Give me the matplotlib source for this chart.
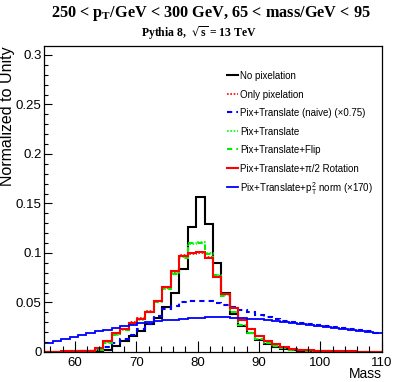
import matplotlib
matplotlib.use('Agg')
import matplotlib.pyplot as plt
import numpy as np
from matplotlib.lines import Line2D

# binning: 40 bins from 55 to 110
mass_lo, mass_hi, n_bins = 55.0, 110.0, 40

no_pix = [0.0003, 0.0003, 0.0004, 0.0005, 0.0006, 0.0008, 0.0012, 0.002, 0.006, 0.011,
          0.016, 0.021, 0.028, 0.034, 0.045, 0.060, 0.084, 0.126, 0.157, 0.129,
          0.090, 0.060, 0.038, 0.026, 0.019, 0.012, 0.008, 0.005, 0.003, 0.002,
          0.0015, 0.001, 0.0008, 0.0006, 0.0005, 0.0004, 0.0003, 0.0003, 0.0002, 0.0002]
only_pix = [0.0005, 0.0005, 0.0006, 0.0007, 0.0008, 0.001, 0.003, 0.010, 0.018, 0.023,
            0.030, 0.034, 0.041, 0.051, 0.065, 0.081, 0.098, 0.099, 0.100, 0.096,
            0.077, 0.059, 0.044, 0.033, 0.023, 0.016, 0.011, 0.008, 0.005, 0.0035,
            0.0025, 0.002, 0.0015, 0.001, 0.0008, 0.0007, 0.0006, 0.0005, 0.0004, 0.0004]
naive = [0.0003, 0.0003, 0.0005, 0.0008, 0.001, 0.0015, 0.003, 0.005, 0.009, 0.013,
         0.017, 0.023, 0.028, 0.036, 0.043, 0.046, 0.050, 0.052, 0.052, 0.051,
         0.049, 0.047, 0.045, 0.042, 0.040, 0.037, 0.035, 0.033, 0.031, 0.030,
         0.029, 0.028, 0.027, 0.026, 0.025, 0.024, 0.023, 0.022, 0.021, 0.019]
translate = [0.0003, 0.0003, 0.0004, 0.0005, 0.0006, 0.0008, 0.002, 0.009, 0.017, 0.022,
             0.028, 0.032, 0.040, 0.050, 0.064, 0.080, 0.096, 0.109, 0.111, 0.100,
             0.078, 0.058, 0.040, 0.027, 0.019, 0.013, 0.009, 0.006, 0.004, 0.0025,
             0.0018, 0.0012, 0.001, 0.0008, 0.0006, 0.0005, 0.0004, 0.0004, 0.0003, 0.0003]
flip = [0.0003, 0.0003, 0.0004, 0.0005, 0.0006, 0.0008, 0.002, 0.009, 0.017, 0.022,
        0.028, 0.033, 0.040, 0.050, 0.064, 0.079, 0.095, 0.110, 0.110, 0.099,
        0.078, 0.057, 0.040, 0.027, 0.019, 0.013, 0.009, 0.006, 0.004, 0.0025,
        0.0018, 0.0012, 0.001, 0.0008, 0.0006, 0.0005, 0.0004, 0.0004, 0.0003, 0.0003]
rotation = [0.0005, 0.0005, 0.0006, 0.0007, 0.0008, 0.001, 0.004, 0.011, 0.019, 0.023,
            0.029, 0.033, 0.040, 0.052, 0.066, 0.082, 0.097, 0.100, 0.101, 0.095,
            0.076, 0.059, 0.044, 0.032, 0.023, 0.016, 0.011, 0.008, 0.005, 0.0035,
            0.0025, 0.002, 0.0015, 0.001, 0.0008, 0.0007, 0.0006, 0.0005, 0.0004, 0.0004]
pt2_norm = [0.0095, 0.011, 0.013, 0.015, 0.017, 0.019, 0.021, 0.0225, 0.024, 0.0262,
            0.0276, 0.029, 0.030, 0.031, 0.032, 0.0328, 0.0337, 0.0343, 0.0348, 0.0352,
            0.0354, 0.0352, 0.0348, 0.0343, 0.0336, 0.0330, 0.0322, 0.0313, 0.0303, 0.0293,
            0.0283, 0.0272, 0.0262, 0.0252, 0.0242, 0.0232, 0.0222, 0.0213, 0.0204, 0.0196]

labels = ['No pixelation', 'Only pixelation', 'Pix+Translate (naive) (\u00d70.75)',
          'Pix+Translate', 'Pix+Translate+Flip', 'Pix+Translate+\u03c0/2 Rotation',
          'Pix+Translate+p$_\\mathregular{T}^\\mathregular{2}$ norm (\u00d7170)']

plt.rcParams['font.family'] = ['Liberation Sans', 'DejaVu Sans']

edges = np.linspace(mass_lo, mass_hi, n_bins + 1)

fig = plt.figure(figsize=(3.94, 3.82), dpi=100)
ax = fig.add_axes([44.3 / 394, 1 - 352 / 382, (381.6 - 44.3) / 394, (352 - 46) / 382])

styles = [
    dict(color='black', lw=1.5, ls='-'),
    dict(color='#ff0000', lw=1.2, ls=(0, (1, 1))),
    dict(color='#0000ff', lw=1.5, ls=(0, (2.5, 2))),
    dict(color='#00ff00', lw=1.2, ls=(0, (1, 1))),
    dict(color='#00ee00', lw=1.5, ls=(0, (2.5, 2))),
    dict(color='#ff0000', lw=1.5, ls='-'),
    dict(color='#0000ff', lw=1.3, ls='-'),
]
series = [no_pix, only_pix, naive, translate, flip, rotation, pt2_norm]
for vals, st in zip(series, styles):
    ax.stairs(vals, edges, baseline=None, **st)

# legend drawn by hand (ROOT-like fixed row spacing)
leg_x0, leg_x1, leg_tx = 0.5417, 0.5743, 0.5802
leg_top, leg_step = 0.905, 0.0607
for i, (st, lab) in enumerate(zip(styles, labels)):
    y = leg_top - i * leg_step
    ax.add_line(Line2D([leg_x0, leg_x1], [y, y], transform=ax.transAxes, **st))
    ax.text(leg_tx, y, lab, transform=ax.transAxes, fontsize=7,
            ha='left', va='center_baseline')

ax.set_xlim(mass_lo, mass_hi)
ax.set_ylim(0, 0.309)
ax.set_xticks([60, 70, 80, 90, 100, 110])
ax.set_xticks(np.arange(56, 110, 2), minor=True)
ax.set_yticks([0, 0.05, 0.1, 0.15, 0.2, 0.25, 0.3])
ax.set_yticklabels(['0', '0.05', '0.1', '0.15', '0.2', '0.25', '0.3'])
ax.set_yticks(np.arange(0, 0.31, 0.01), minor=True)
ax.tick_params(axis='both', which='both', direction='in', labelsize=9.5)
ax.tick_params(axis='x', which='major', length=8, width=0.8, pad=3.5)
ax.tick_params(axis='x', which='minor', length=4, width=0.8)
ax.tick_params(axis='y', which='major', length=6, width=0.8, pad=2)
ax.tick_params(axis='y', which='minor', length=3, width=0.8)
for s in ax.spines.values():
    s.set_linewidth(0.9)

ax.set_xlabel('Mass', loc='right', fontsize=10)
ax.xaxis.set_label_coords(1.0, -0.05)
ax.xaxis.label.set_va('top')
ax.set_ylabel('Normalized to Unity', loc='top', fontsize=11.5)
ax.yaxis.set_label_coords(-0.087, 1.0)

fig.text(211 / 394, 1 - 17 / 382,
         '250 < p$_\\mathregular{T}$/GeV < 300 GeV, 65 < mass/GeV < 95',
         ha='center', va='baseline', fontsize=11.7, fontweight='bold',
         family=['Liberation Serif', 'DejaVu Serif'])
fig.text(199 / 394, 1 - 37 / 382, 'Pythia 8,  $\\sqrt{\\mathregular{s}}$ = 13 TeV',
         ha='center', va='baseline', fontsize=8.5, fontweight='bold',
         family=['Liberation Serif', 'DejaVu Serif'])

fig.savefig('out.png', dpi=100)
